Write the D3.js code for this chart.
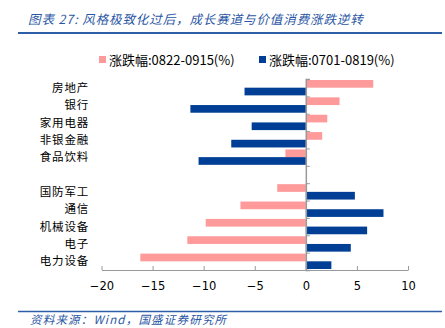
<!DOCTYPE html>
<html>
<head>
<meta charset="utf-8">
<script src="https://cdn.jsdelivr.net/npm/d3@7"></script>
<style>
  body { margin: 0; background: #fff; }
  svg { display: block; }
</style>
</head>
<body>
<div id="chart"></div>
<script>
// Categories (empty string = spacer row between the two groups)
const categories = ["房地产", "银行", "家用电器", "非银金融", "食品饮料", "",
                    "国防军工", "通信", "机械设备", "电子", "电力设备"];
const seriesNames = ["涨跌幅:0822-0915(%)", "涨跌幅:0701-0819(%)"];
const recent = [6.6, 3.3, 2.1, 1.6, -2.0, null, -2.8, -6.4, -9.8, -11.6, -16.2];
const earlier = [-6.0, -11.3, -5.3, -7.3, -10.5, null, 4.8, 7.6, 6.0, 4.4, 2.5];
const xTicks = [-20, -15, -10, -5, 0, 5, 10];

const colors = ["#ff9a9a", "#003f95"];

const W = 445, H = 328;
const svg = d3.select("#chart").append("svg")
    .attr("width", W)
    .attr("height", H);

const cjk = "'Noto Sans CJK SC', sans-serif";

// Title
svg.append("text")
    .attr("x", 28)
    .attr("y", 24)
    .style("font-family", cjk)
    .style("font-style", "italic")
    .style("font-size", "12.5px")
    .style("letter-spacing", "0.9px")
    .style("fill", "#2a56a4")
    .text("图表 27:  风格极致化过后，成长赛道与价值消费涨跌逆转");

svg.append("line")
    .attr("x1", 18).attr("x2", 442)
    .attr("y1", 33).attr("y2", 33)
    .attr("stroke", "#2f5ea8")
    .attr("stroke-width", 2);

// Scales
const x = d3.scaleLinear().domain([-20, 10]).range([101.5, 408]);
const y = d3.scaleBand()
    .domain(d3.range(categories.length))
    .range([79, 270])
    .paddingInner(0)
    .paddingOuter(0);
const ySub = d3.scaleBand()
    .domain([0, 1])
    .range([0, y.bandwidth()])
    .paddingOuter(0.13);

const rows = categories.map((c, i) => ({ i, c, vals: [recent[i], earlier[i]] }));

// Bars
const g = svg.append("g");
rows.forEach(r => {
    r.vals.forEach((v, k) => {
        if (v == null) return;
        g.append("rect")
            .attr("x", x(Math.min(0, v)))
            .attr("width", Math.abs(x(v) - x(0)))
            .attr("y", y(r.i) + ySub(k))
            .attr("height", ySub.bandwidth())
            .attr("fill", colors[k]);
    });
});

// Zero line with ticks at band boundaries
const yLin = d3.scaleLinear().domain([0, categories.length]).range([79, 270]);
const yAxis = svg.append("g")
    .attr("transform", `translate(${x(0)},0)`)
    .call(d3.axisRight(yLin).tickValues(d3.range(categories.length + 1)).tickSize(4).tickFormat(""));
yAxis.select(".domain").attr("stroke", "#999").attr("stroke-width", 1.5);
yAxis.selectAll(".tick line").attr("stroke", "#999");

// X axis
const xAxis = svg.append("g")
    .attr("transform", `translate(0,270)`)
    .call(d3.axisBottom(x).tickValues(xTicks).tickSize(-4).tickPadding(12).tickSizeOuter(0));
xAxis.select(".domain").attr("stroke", "#999");
xAxis.selectAll(".tick line").attr("stroke", "#999");
xAxis.selectAll("text")
    .style("font-family", "'DejaVu Sans', sans-serif")
    .style("font-size", "11.5px")
    .style("fill", "#000");

// Category labels
svg.append("g").selectAll("text")
    .data(rows.filter(r => r.c))
    .enter().append("text")
    .attr("x", 89)
    .attr("y", d => y(d.i) + y.bandwidth() / 2)
    .attr("dy", "0.36em")
    .attr("text-anchor", "end")
    .style("font-family", cjk)
    .style("font-size", "11.5px")
    .style("letter-spacing", "0.8px")
    .style("fill", "#000")
    .text(d => d.c);

// Legend
const legendPos = [99, 259];
seriesNames.forEach((name, k) => {
    svg.append("rect")
        .attr("x", legendPos[k])
        .attr("y", 56)
        .attr("width", 7)
        .attr("height", 7)
        .attr("fill", colors[k]);
    svg.append("text")
        .attr("x", legendPos[k] + 10)
        .attr("y", 60)
        .attr("dy", "0.36em")
        .style("font-family", cjk)
        .style("font-size", "13px")
        .style("fill", "#000")
        .text(name);
});

// Source
svg.append("line")
    .attr("x1", 18).attr("x2", 442)
    .attr("y1", 311.5).attr("y2", 311.5)
    .attr("stroke", "#2f5ea8")
    .attr("stroke-width", 1.5);

svg.append("text")
    .attr("x", 30)
    .attr("y", 324)
    .style("font-family", cjk)
    .style("font-style", "italic")
    .style("font-size", "11.5px")
    .style("letter-spacing", "1.2px")
    .style("fill", "#2a56a4")
    .text("资料来源：Wind，国盛证券研究所");
</script>
</body>
</html>
